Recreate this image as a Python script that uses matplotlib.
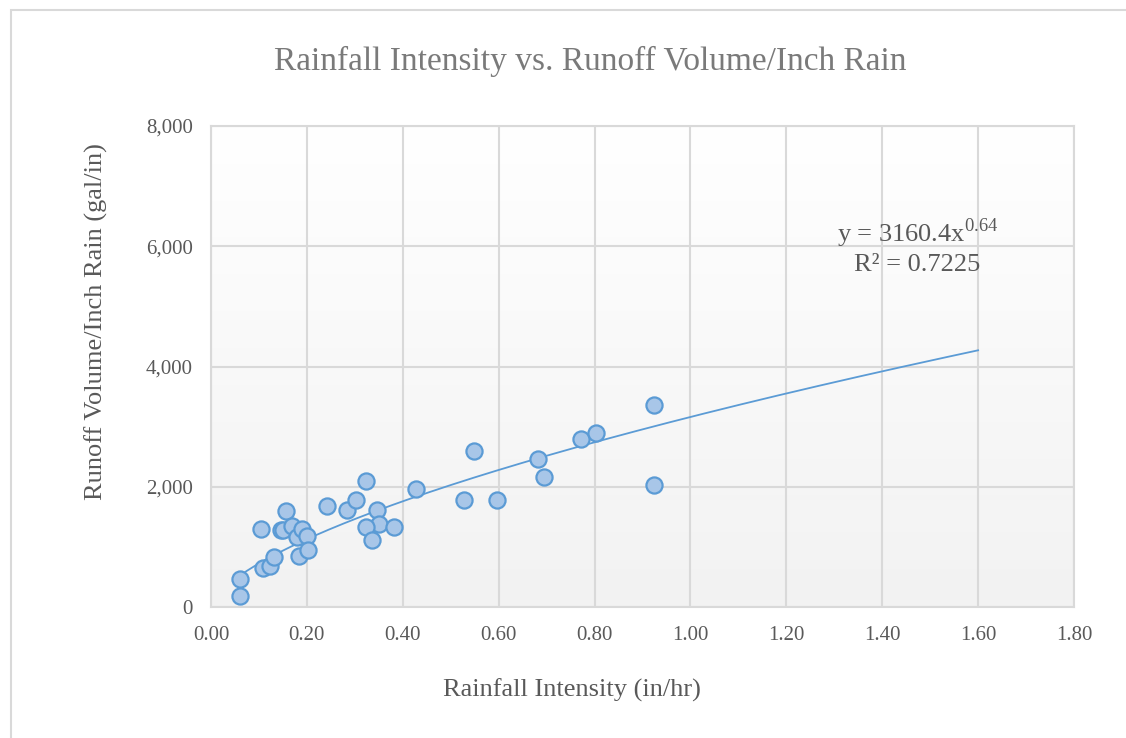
import numpy as np
import matplotlib
matplotlib.use("Agg")
import matplotlib.pyplot as plt
from matplotlib.patches import Rectangle
from matplotlib.ticker import FuncFormatter

# rainfall intensity (in/hr) and runoff volume per inch of rain (gal/in)
intensity = [0.060, 0.060, 0.104, 0.109, 0.124, 0.131, 0.146, 0.150, 0.157,
             0.168, 0.179, 0.184, 0.190, 0.200, 0.203, 0.242, 0.284, 0.303,
             0.324, 0.347, 0.350, 0.324, 0.382, 0.336, 0.428, 0.549, 0.528,
             0.597, 0.682, 0.695, 0.772, 0.802, 0.923, 0.923]
runoff = [461, 183, 1293, 644, 688, 838, 1275, 1283, 1597,
          1347, 1172, 850, 1300, 1183, 950, 1688, 1617, 1772,
          2088, 1617, 1378, 1328, 1328, 1117, 1962, 2595, 1783,
          1783, 2467, 2155, 2795, 2895, 3362, 2028]

# power trendline shown on the chart
trend_a = 3160.4
trend_b = 0.64
trend_r2 = 0.7225
trend_start, trend_end = 0.06, 1.60

plt.rcParams['font.family'] = ['Liberation Serif', 'DejaVu Serif']
plt.rcParams['mathtext.fontset'] = 'custom'
plt.rcParams['mathtext.rm'] = 'Liberation Serif'
txt = '#595959'
grid = '#d9d9d9'

fig = plt.figure(figsize=(11.26, 7.38), dpi=100)
fig.patches.append(Rectangle((11 / 1126, -0.1), 1.2, 1 - 10 / 738 + 0.1,
                             transform=fig.transFigure, fill=False,
                             edgecolor='#d9d9d9', linewidth=1.5))

ax = fig.add_axes([211 / 1126, 1 - 607 / 738, (1074 - 211) / 1126, (607 - 126) / 738])

# soft vertical gradient in the plot area
grad = np.linspace(1.0, 0.0, 256).reshape(-1, 1)
ax.imshow(grad, extent=[0, 1, 0, 1], transform=ax.transAxes, aspect='auto',
          cmap=matplotlib.colors.LinearSegmentedColormap.from_list('g', ['#f2f2f2', '#ffffff']),
          zorder=0, interpolation='bilinear')

ax.set_xlim(0, 1.8)
ax.set_ylim(0, 8000)
ax.set_xticks(np.arange(0, 1.81, 0.2))
ax.set_yticks(np.arange(0, 8001, 2000))
ax.xaxis.set_major_formatter(FuncFormatter(lambda v, p: f'{v:.2f}'))
ax.yaxis.set_major_formatter(FuncFormatter(lambda v, p: f'{v:,.0f}'))
ax.grid(True, color=grid, linewidth=1.5, zorder=1)
ax.set_axisbelow(True)
for s in ax.spines.values():
    s.set_color(grid)
    s.set_linewidth(1.5)
ax.tick_params(length=0, labelsize=15, labelcolor=txt, pad=14)
ax.tick_params(axis='y', pad=13)

xt = np.linspace(trend_start, trend_end, 200)
ax.plot(xt, trend_a * xt ** trend_b, color='#5b9bd5', linewidth=1.3, zorder=3)
ax.scatter(intensity, runoff, s=135, facecolor='#a8c6e8', edgecolor='#5b9bd5',
           linewidth=1.6, zorder=4)

fig.text(918 / 1126, 1 - 233 / 738, 'y = 3160.4x$^{0.64}$', fontsize=19, color=txt,
         ha='center', va='center')
fig.text(917 / 1126, 1 - 265 / 738, f'R² = {trend_r2}', fontsize=19, color=txt,
         ha='center', va='center')

fig.text(590 / 1126, 1 - 61 / 738, 'Rainfall Intensity vs. Runoff Volume/Inch Rain',
         fontsize=24, color='#7a7a7a', ha='center', va='center')
fig.text(572 / 1126, 1 - 690 / 738, 'Rainfall Intensity (in/hr)', fontsize=19,
         color=txt, ha='center', va='center')
fig.text(96 / 1126, 1 - 322 / 738, 'Runoff Volume/Inch Rain (gal/in)', fontsize=19,
         color=txt, ha='center', va='center', rotation=90)

fig.savefig('out.png', dpi=100)
